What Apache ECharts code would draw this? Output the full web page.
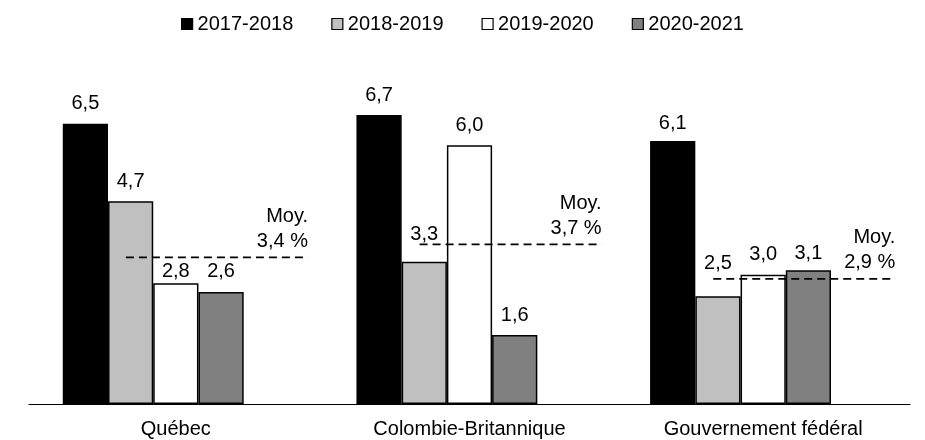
<!DOCTYPE html>
<html>
<head>
<meta charset="utf-8">
<script src="https://cdn.jsdelivr.net/npm/echarts@6/dist/echarts.min.js"></script>
<style>
  html, body { margin: 0; padding: 0; background: #fff; }
  #main { width: 925px; height: 440px; }
</style>
</head>
<body>
<div id="main"></div>
<script>
  // données du graphique
  var categories = ['Québec', 'Colombie-Britannique', 'Gouvernement fédéral'];
  var seriesNames = ['2017-2018', '2018-2019', '2019-2020', '2020-2021'];
  var v2017 = [6.5, 6.7, 6.1];
  var v2018 = [4.7, 3.3, 2.5];
  var v2019 = [2.8, 6.0, 3.0];
  var v2020 = [2.6, 1.6, 3.1];
  var moyennes = [3.4, 3.7, 2.9];

  var colors = ['#000000', '#c0c0c0', '#ffffff', '#808080'];
  var font = 'Liberation Sans, Arial, sans-serif';
  var avgFrom = -0.17, avgTo = 0.45; // étendue de la ligne moyenne autour du centre
  // étiquettes déplacées à la main (série-catégorie : décalage vertical)
  var labelShift = { '1-1': -7, '1-2': -13, '2-0': 8, '0-2': 3, '3-2': 3 };

  function fmt(v) { return v.toFixed(1).replace('.', ','); }

  var myChart = echarts.init(document.getElementById('main'));

  var series = [v2017, v2018, v2019, v2020].map(function (d, k) {
    return {
      name: seriesNames[k],
      type: 'bar',
      barGap: '0%',
      barCategoryGap: '23%',
      itemStyle: { color: colors[k], borderColor: '#000', borderWidth: 1.5 },
      label: {
        show: true, position: 'top', distance: 10,
        color: '#000', fontSize: 20, fontFamily: font,
        formatter: function (p) { return fmt(p.value); }
      },
      data: d.map(function (v, i) {
        var s = labelShift[k + '-' + i];
        return s ? { value: v, label: { offset: [0, s] } } : v;
      })
    };
  });
  // série vide : réserve la 5e place du groupe (comme dans Excel)
  series.push({ name: 'vide', type: 'bar', data: ['-', '-', '-'], barGap: '0%', barCategoryGap: '23%' });

  moyennes.forEach(function (m, i) {
    series.push({
      name: 'Moy' + i,
      type: 'line',
      xAxisIndex: 1,
      yAxisIndex: 0,
      z: 5,
      symbol: 'circle',
      symbolSize: 1,
      itemStyle: { color: 'rgba(0,0,0,0)' },
      lineStyle: { color: '#000', width: 1.8, type: [8, 5] },
      silent: true,
      data: [
        [i + avgFrom, m],
        {
          value: [i + avgTo, m],
          label: {
            show: true, position: 'top', align: 'right', distance: 3,
            color: '#000', fontSize: 20, lineHeight: 25, fontFamily: font,
            formatter: 'Moy.\n' + fmt(m) + ' %'
          }
        }
      ]
    });
  });

  var option = {
    animation: false,
    textStyle: { fontFamily: font },
    legend: {
      data: seriesNames,
      top: 9,
      left: 'center',
      icon: 'rect',
      itemWidth: 11,
      itemHeight: 11,
      itemGap: 38,
      itemStyle: { borderColor: '#000', borderWidth: 1.2 },
      textStyle: { color: '#000', fontSize: 20, fontFamily: font }
    },
    grid: { left: 29, right: 15, top: 59, bottom: 36 },
    xAxis: [
      {
        type: 'category',
        data: categories,
        axisLine: { lineStyle: { color: '#000', width: 1.2 } },
        axisTick: { show: false },
        axisLabel: { color: '#000', fontSize: 20, fontFamily: font, margin: 15 }
      },
      { type: 'value', min: -0.5, max: 2.5, show: false }
    ],
    yAxis: { type: 'value', min: 0, max: 8, show: false },
    series: series
  };
  myChart.setOption(option);
</script>
</body>
</html>
